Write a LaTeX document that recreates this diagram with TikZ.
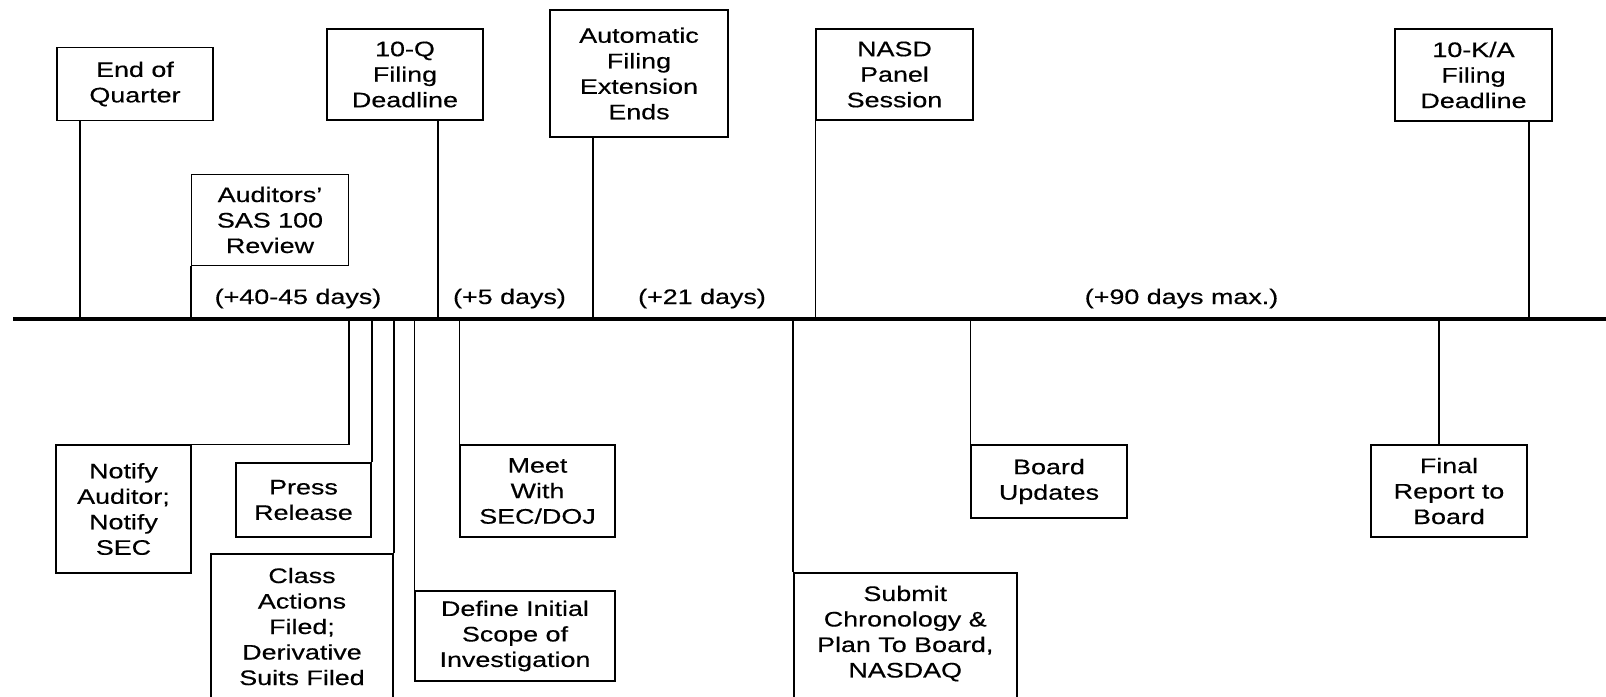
\documentclass[tikz,border=0pt]{standalone}
\usepackage{fontspec}
\setmainfont{Liberation Sans}[FakeStretch=1.28,FakeBold=0.4]
\newcommand\bfnt{\fontsize{21pt}{25.5pt}\selectfont}
\tikzset{
  box/.style={draw, line width=1.5pt, align=center, inner sep=0pt, font=\bfnt},
  stem/.style={line width=1.5pt},
  thickstem/.style={line width=2.5pt},
  lbl/.style={font=\bfnt, inner sep=0pt, anchor=base},
}
\begin{document}
\begin{tikzpicture}[x=1pt,y=-1pt]
\useasboundingbox (0,0) rectangle (1606,696);
\clip (0,0) rectangle (1606,696);

% timeline
\coordinate (tlL) at (13,319);
\coordinate (tlR) at (1606,319);
\draw[line width=4pt] (tlL) -- (tlR);

% top boxes
\node[box, minimum width=156, minimum height=73] (eoq) at (135,84) {End of\\Quarter};
\node[box, minimum width=157, minimum height=91] (audit) at (270,220) {Auditors'\\SAS 100\\Review};
\node[box, minimum width=156, minimum height=91] (tenq) at (405,74.5) {10-Q\\Filing\\Deadline};
\node[box, minimum width=178, minimum height=127] (auto) at (639,73.5) {Automatic\\Filing\\Extension\\Ends};
\node[box, minimum width=157, minimum height=91] (nasd) at (894.5,74.5) {NASD\\Panel\\Session};
\node[box, minimum width=157, minimum height=92] (tenk) at (1473.5,75) {10-K/A\\Filing\\Deadline};

% top stems
\coordinate (a1) at (80,319);
\draw[thickstem] (eoq.south -| a1) -- (a1);
\draw[stem] (audit.south west) -- (audit.south west |- tlL);
\coordinate (a3) at (438,319);
\draw[stem] (tenq.south -| a3) -- (a3);
\coordinate (a4) at (593,319);
\draw[stem] (auto.south -| a4) -- (a4);
\draw[stem] (nasd.south west) -- (nasd.south west |- tlL);
\coordinate (a6) at (1529,319);
\draw[thickstem] (tenk.south -| a6) -- (a6);

% interval labels
\node[lbl] (d1) at (298,304) {(+40-45 days)};
\node[lbl] (d2) at (509.5,304) {(+5 days)};
\node[lbl] (d3) at (702,304) {(+21 days)};
\node[lbl] (d4) at (1181.5,304) {(+90 days max.)};

% bottom boxes
\node[box, minimum width=135, minimum height=128] (notify) at (123.5,509) {Notify\\Auditor;\\Notify\\SEC};
\node[box, minimum width=135, minimum height=74] (press) at (303.5,500) {Press\\Release};
\node[box, minimum width=182, minimum height=145] (class) at (302,626.5) {Class\\Actions\\Filed;\\Derivative\\Suits Filed};
\node[box, minimum width=200, minimum height=90] (define) at (515,636) {Define Initial\\Scope of\\Investigation};
\node[box, minimum width=155, minimum height=92] (meet) at (537.5,491) {Meet\\With\\SEC/DOJ};
\node[box, anchor=north west] (submit) at (793,572) {\parbox[c][140pt][t]{223pt}{\centering\vspace*{13pt}Submit\\Chronology \&\\Plan To Board,\\NASDAQ}};
\node[box, minimum width=156, minimum height=73] (board) at (1049,481.5) {Board\\Updates};
\node[box, minimum width=156, minimum height=92] (final) at (1449,491) {Final\\Report to\\Board};

% bottom stems
\coordinate (b1) at (349,319);
\draw[stem] (b1) |- (notify.north east);
\draw[stem] (press.north east |- tlL) -- (press.north east);
\draw[stem] (class.north east |- tlL) -- (class.north east);
\draw[stem] (define.north west |- tlL) -- (define.north west);
\draw[stem] (meet.north west |- tlL) -- (meet.north west);
\draw[stem] (submit.north west |- tlL) -- (submit.north west);
\draw[stem] (board.north west |- tlL) -- (board.north west);
\coordinate (b8) at (1439,319);
\draw[thickstem] (b8) -- (b8 |- final.north);
\end{tikzpicture}
\end{document}
